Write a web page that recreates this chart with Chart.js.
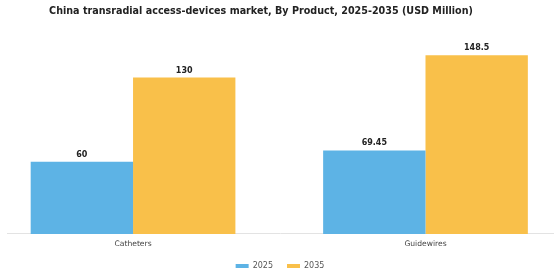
<!DOCTYPE html>
<html>
<head>
<meta charset="utf-8">
<script src="https://cdn.jsdelivr.net/npm/chart.js@4/dist/chart.umd.min.js"></script>
<style>
  html,body{margin:0;padding:0;background:#fff;}
  #wrap{width:560px;height:280px;}
</style>
</head>
<body>
<div id="wrap"><canvas id="c" width="560" height="280"></canvas></div>
<script>
/* chart data */
const categories = ['Catheters', 'Guidewires'];
const seriesNames = ['2025', '2035'];
const values2025 = [60, 69.45];
const values2035 = [130, 148.5];
const valueLabels2025 = ['60', '69.45'];
const valueLabels2035 = ['130', '148.5'];

const BLUE = '#5db3e5';
const GOLD = '#f9c04a';

/* layout tweaks + bar value labels */
const barLabels = {
  id: 'barLabels',
  afterInit(chart){
    // keep wide horizontal gaps in the legend but a shorter legend block
    const lg = chart.legend;
    if(lg){
      const fit = lg.fit;
      lg.fit = function(){ fit.call(this); this.height -= 10; };
    }
  },
  afterLayout(chart){
    // title sits a bit left of the canvas centre in the original
    if(chart.titleBlock){ chart.titleBlock.left = 0; chart.titleBlock.right = 522; }
    if(chart.legend){ chart.legend.top -= 7; chart.legend.bottom -= 7; }
  },
  afterDatasetsDraw(chart){
    const ctx = chart.ctx;
    const texts = [valueLabels2025, valueLabels2035];
    ctx.save();
    ctx.font = 'bold 8px "DejaVu Sans"';
    ctx.fillStyle = '#222';
    ctx.textAlign = 'center';
    ctx.textBaseline = 'bottom';
    chart.data.datasets.forEach((ds, di)=>{
      chart.getDatasetMeta(di).data.forEach((bar, i)=>{
        ctx.fillText(texts[di][i], bar.x, bar.y - 3);
      });
    });
    ctx.restore();
  }
};

const toPoints = arr => arr.map((v,i)=>({x:i, y:v}));

new Chart(document.getElementById('c'), {
  type: 'bar',
  data: {
    datasets: [
      {label: seriesNames[0], data: toPoints(values2025), backgroundColor: BLUE,
       categoryPercentage: 0.7, barPercentage: 1.0},
      {label: seriesNames[1], data: toPoints(values2035), backgroundColor: GOLD,
       categoryPercentage: 0.7, barPercentage: 1.0}
    ]
  },
  options: {
    responsive: false,
    animation: false,
    layout: {padding: {left: 7, right: 7, top: 0, bottom: 3}},
    plugins: {
      title: {
        display: true,
        text: 'China transradial access-devices market, By Product, 2025-2035 (USD Million)',
        color: '#222',
        font: {family: '"DejaVu Sans"', size: 9.6, weight: 'bold'},
        padding: {top: 6, bottom: 24}
      },
      legend: {
        position: 'bottom',
        labels: {
          boxWidth: 13, boxHeight: 4, padding: 14,
          color: '#555',
          font: {family: '"DejaVu Sans"', size: 8}
        }
      },
      tooltip: {enabled: false}
    },
    scales: {
      x: {
        type: 'linear',
        offset: false,
        min: -0.431,
        max: 1.436,
        afterBuildTicks: scale => { scale.ticks = categories.map((c,i)=>({value:i})); },
        ticks: {
          callback: v => categories[v] ?? '',
          color: '#444',
          font: {family: '"DejaVu Sans"', size: 7.6},
          padding: 6,
          maxRotation: 0
        },
        grid: {display: false, drawTicks: false},
        border: {display: true, color: '#e3e3e3', width: 1}
      },
      y: {
        display: false,
        min: 0,
        max: 160
      }
    }
  },
  plugins: [barLabels]
});
</script>
</body>
</html>
